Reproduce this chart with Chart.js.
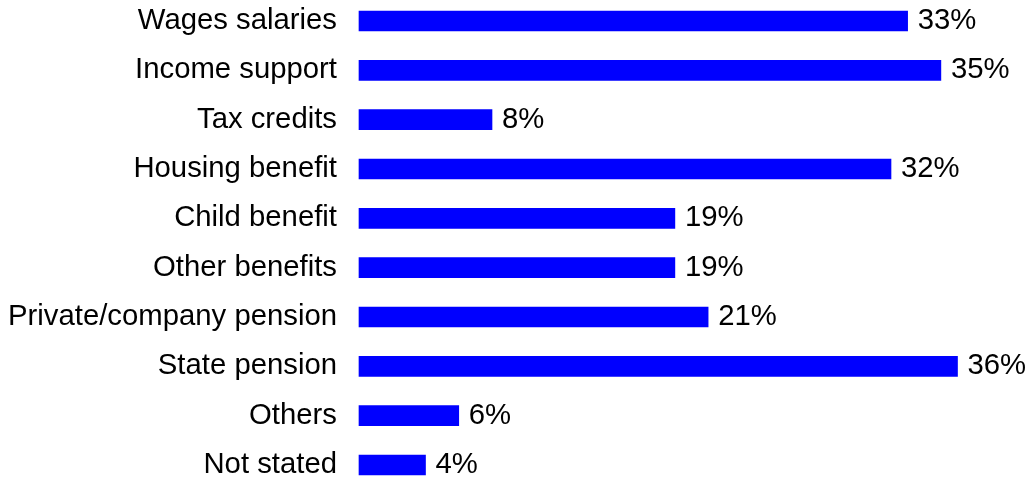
<!DOCTYPE html>
<html>
<head>
<meta charset="utf-8">
<script src="https://cdn.jsdelivr.net/npm/chart.js@4"></script>
<style>
  html, body { margin: 0; padding: 0; background: #fff; }
  #wrap { width: 1028px; height: 479px; }
</style>
</head>
<body>
<div id="wrap"><canvas id="incomeChart"></canvas></div>
<script>
const categories = ['Wages salaries', 'Income support', 'Tax credits', 'Housing benefit', 'Child benefit',
    'Other benefits', 'Private/company pension', 'State pension', 'Others', 'Not stated'];
const percentages = [33, 35, 8, 32, 19, 19, 21, 36, 6, 4];

const labelFont = '"Liberation Sans", Arial, sans-serif';

// etiquetas de valor ao lado das barras
const valueLabels = {
    id: 'valueLabels',
    afterDatasetsDraw(chart) {
        const ctx = chart.ctx;
        const meta = chart.getDatasetMeta(0);
        ctx.save();
        ctx.font = '29.3px ' + labelFont;
        ctx.fillStyle = '#000';
        ctx.textAlign = 'left';
        ctx.textBaseline = 'middle';
        meta.data.forEach((bar, i) => {
            ctx.fillText(percentages[i] + '%', bar.x + 10, bar.y);
        });
        ctx.restore();
    }
};

const ctxIncome = document.getElementById('incomeChart').getContext('2d');
const incomeChart = new Chart(ctxIncome, {
    type: 'bar',
    data: {
        labels: categories,
        datasets: [{
            data: percentages,
            backgroundColor: '#0000ff',
            borderWidth: 0,
            barThickness: 20,
            clip: false
        }]
    },
    options: {
        indexAxis: 'y',
        responsive: true,
        maintainAspectRatio: false,
        animation: false,
        layout: {
            padding: { left: 0, right: 4, top: 21, bottom: 14 }
        },
        plugins: {
            legend: { display: false },
            tooltip: { enabled: false }
        },
        scales: {
            x: {
                display: false,
                min: 0,
                max: 40
            },
            y: {
                offset: false,
                grid: { display: false, drawTicks: false },
                border: { display: false },
                ticks: {
                    padding: 22,
                    color: '#000',
                    font: { family: labelFont, size: 29.3 }
                },
                afterFit(scale) {
                    scale.width = 359;
                    scale.paddingTop = 0;
                    scale.paddingBottom = 0;
                }
            }
        }
    },
    plugins: [valueLabels]
});
</script>
</body>
</html>
